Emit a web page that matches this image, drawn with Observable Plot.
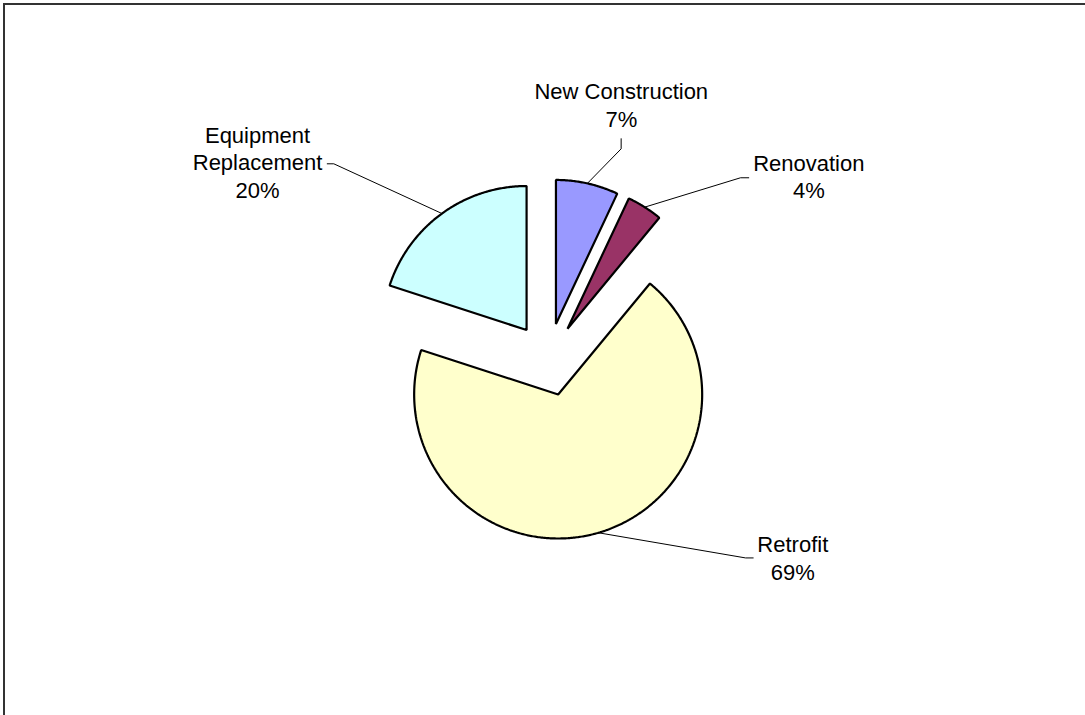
<!DOCTYPE html>
<html><head><meta charset="utf-8">
<script src="https://cdn.jsdelivr.net/npm/d3@7"></script>
<script src="https://cdn.jsdelivr.net/npm/@observablehq/plot@0.6"></script>
<style>
html,body{margin:0;padding:0;background:#fff;}
#wrap{position:relative;width:1085px;height:715px;overflow:hidden;}
#wrap svg{position:absolute;left:0;top:0;}
#border{position:absolute;left:3px;top:3px;width:1200px;height:800px;border-left:2px solid #333;border-top:2px solid #333;pointer-events:none;}
</style></head><body>
<div id="wrap"></div>
<script>
// ---- data ----
const categories = ["New Construction", "Renovation", "Retrofit", "Equipment Replacement"];
const shares = [7, 4, 69, 20];
const labelNames = ["New Construction", "Renovation", "Retrofit", "Equipment\nReplacement"];
const sliceColors = ["#9999FF", "#993366", "#FFFFCC", "#CCFFFF"];

// ---- layout (in pie-radius units, center of pie at 0,0, y up) ----
const explode = 0.253;
const labelLayout = [
  {tx: 0.509, ty: 1.773, ax: 0.508, ay: 1.533, ex: 0.508, ey: 1.463},
  {tx: 1.811, ty: 1.276, ax: 1.394, ay: 1.262, ex: 1.337, ey: 1.262},
  {tx: 1.700, ty: -1.371, ax: 1.425, ay: -1.378, ex: 1.372, ey: -1.378},
  {tx: -2.017, ty: 1.375, ax: -1.533, ay: 1.359, ex: -1.4875, ey: 1.359}
];

const arcs = d3.pie().sort(null).value(d => d)(shares);

const sliceMarks = arcs.map((a, i) => {
  const m = (a.startAngle + a.endAngle) / 2;
  const ox = explode * Math.sin(m), oy = explode * Math.cos(m);
  const pts = [{x: ox, y: oy}];
  const n = Math.max(2, Math.ceil((a.endAngle - a.startAngle) / (Math.PI / 360)));
  for (let k = 0; k <= n; k++) {
    const t = a.startAngle + (a.endAngle - a.startAngle) * k / n;
    pts.push({x: ox + Math.sin(t), y: oy + Math.cos(t)});
  }
  return Plot.line(pts, {x: "x", y: "y", curve: "linear-closed", fill: sliceColors[i], stroke: "black", strokeWidth: 2.2, strokeLinejoin: "miter"});
});

const leaderMarks = arcs.map((a, i) => {
  const m = (a.startAngle + a.endAngle) / 2;
  const ox = explode * Math.sin(m), oy = explode * Math.cos(m);
  const L = labelLayout[i];
  const pts = [{x: L.ax, y: L.ay}, {x: L.ex, y: L.ey}, {x: ox + Math.sin(m), y: oy + Math.cos(m)}];
  return Plot.line(pts, {x: "x", y: "y", stroke: "black", strokeWidth: 1});
});

const labels = categories.map((c, i) => ({
  text: labelNames[i] + "\n" + shares[i] + "%",
  x: labelLayout[i].tx, y: labelLayout[i].ty
}));

const W = 1085, H = 715, R = 144, cx = 547.5, cy = 359;
const chart = Plot.plot({
  width: W, height: H, margin: 0,
  x: {domain: [-cx / R, (W - cx) / R], axis: null},
  y: {domain: [-(H - cy) / R, cy / R], axis: null},
  style: {fontFamily: "'Liberation Sans', Arial, sans-serif", background: "white"},
  marks: [
    ...leaderMarks,
    ...sliceMarks,
    Plot.text(labels, {x: "x", y: "y", text: "text", textAnchor: "middle", lineAnchor: "middle", lineHeight: 1.26, fontSize: 22, fill: "black"})
  ]
});
const wrap = document.getElementById("wrap");
wrap.appendChild(chart);
const b = document.createElement("div"); b.id = "border"; wrap.appendChild(b);
</script>
</body></html>
